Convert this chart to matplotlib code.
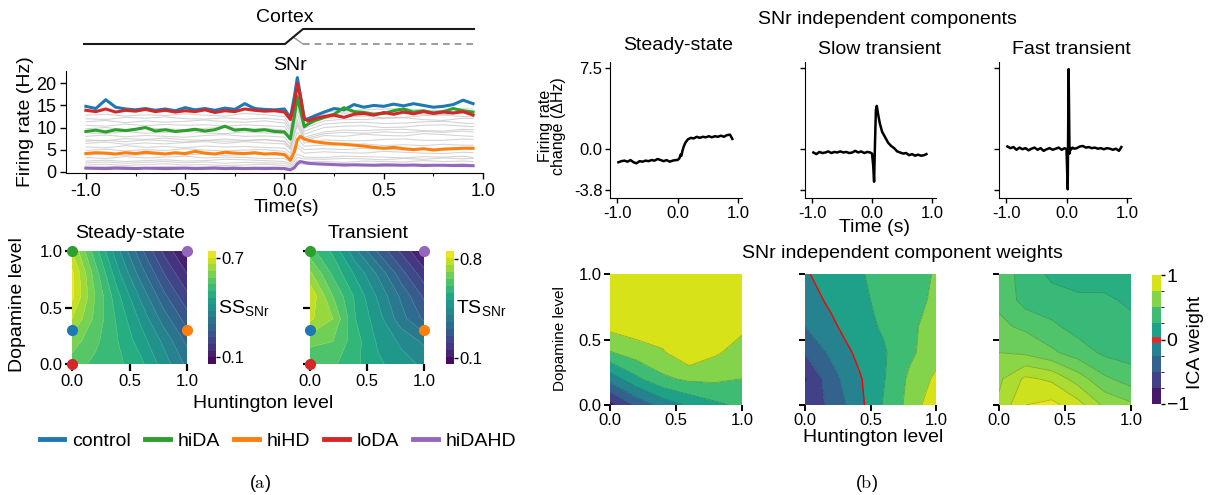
import numpy as np
import matplotlib
matplotlib.use('Agg')
import matplotlib.pyplot as plt
from matplotlib.colors import ListedColormap, BoundaryNorm
from matplotlib.cm import ScalarMappable
from matplotlib.ticker import MultipleLocator

plt.rcParams['font.family'] = ['Liberation Sans', 'DejaVu Sans']
plt.rcParams['mathtext.default'] = 'regular'
plt.rcParams['axes.unicode_minus'] = False

# ---------------- data: panel (a), SNr firing rates ----------------
t_fr = [-1.0, -0.95, -0.9, -0.85, -0.8, -0.75, -0.7, -0.65, -0.6, -0.55,
        -0.5, -0.45, -0.4, -0.35, -0.3, -0.25, -0.2, -0.15, -0.1, -0.05,
        0.0, 0.03, 0.05, 0.065, 0.08, 0.1, 0.12, 0.15,
        0.2, 0.25, 0.3, 0.35, 0.4, 0.45, 0.5, 0.55, 0.6, 0.65, 0.7, 0.75,
        0.8, 0.85, 0.9, 0.95]
fr_control = [14.8, 14.3, 16.3, 14.6, 14.2, 14.0, 14.3, 13.9, 14.2, 13.8,
              14.5, 14.0, 14.3, 13.9, 14.4, 14.1, 15.4, 14.3, 14.1, 14.0,
              14.2, 12.2, 17.0, 21.3, 17.5, 11.8, 12.0, 12.6,
              13.5, 14.3, 14.0, 15.2, 14.6, 15.0, 14.8, 15.3, 14.9, 15.4, 15.0, 14.6,
              14.8, 15.2, 16.2, 15.4]
fr_hiDA = [9.1, 9.4, 9.0, 9.5, 9.3, 9.6, 10.0, 9.2, 9.5, 9.1,
           9.3, 9.6, 9.2, 9.5, 10.3, 9.4, 9.6, 9.3, 9.5, 9.1,
           9.0, 7.4, 12.5, 17.0, 14.0, 10.2, 10.8, 11.5,
           12.3, 13.0, 14.5, 13.6, 13.4, 13.0, 13.2, 13.8, 14.2, 13.5, 13.8, 13.3,
           13.6, 14.3, 13.8, 13.5]
fr_hiHD = [4.1, 4.3, 4.2, 4.0, 4.3, 4.1, 4.4, 4.2, 4.0, 4.3,
           4.1, 4.6, 4.2, 4.0, 4.4, 4.2, 4.1, 4.3, 4.0, 4.1,
           3.9, 2.6, 4.5, 7.2, 8.0, 7.4, 7.1, 6.8,
           6.5, 6.3, 6.2, 6.0, 5.8, 5.5, 5.3, 5.5, 5.2, 5.0, 5.2, 4.9,
           5.1, 5.2, 5.3, 5.3]
fr_loDA = [13.9, 13.6, 14.2, 13.5, 13.9, 13.7, 14.1, 13.6, 13.9, 13.5,
           13.8, 13.6, 14.0, 13.4, 13.8, 13.6, 14.2, 13.9, 13.7, 13.8,
           13.5, 11.8, 15.5, 20.0, 17.0, 12.0, 11.5, 12.0,
           12.5, 12.8, 12.3, 13.0, 13.2, 12.8, 13.4, 13.0, 13.5, 13.1, 13.6, 13.2,
           13.5, 13.3, 13.6, 12.8]
fr_hiDAHD = [0.8, 0.75, 0.7, 0.8, 0.75, 0.7, 0.8, 0.75, 0.7, 0.75,
             0.8, 0.7, 0.75, 0.8, 0.7, 0.75, 0.7, 0.75, 0.7, 0.75,
             0.7, 0.4, 0.9, 1.8, 2.3, 2.1, 1.9, 1.8,
             1.7, 1.6, 1.5, 1.55, 1.5, 1.45, 1.5, 1.5, 1.45, 1.5, 1.4, 1.45,
             1.45, 1.4, 1.4, 1.35]

# other conditions (grey background traces)
t_grey = [-1.0, -0.9, -0.8, -0.7, -0.6, -0.5, -0.4, -0.3, -0.2, -0.1, 0.0,
          0.03, 0.065, 0.1, 0.2, 0.3, 0.4, 0.5, 0.6, 0.7, 0.8, 0.9, 0.95]
fr_grey = [
    [1.0, 1.2, 1.1, 0.9, 1.2, 1.0, 1.1, 1.3, 1.0, 1.1, 1.0, 0.7, 1.8, 1.7, 1.6, 1.7, 1.5, 1.8, 1.6, 1.7, 1.5, 1.8, 1.6],
    [1.5, 1.7, 1.4, 1.6, 1.8, 1.5, 1.6, 1.4, 1.5, 1.7, 1.4, 1.0, 2.5, 2.2, 2.3, 2.1, 2.4, 2.3, 2.2, 2.5, 2.3, 2.4, 2.3],
    [2.0, 2.2, 1.9, 2.1, 2.3, 2.0, 2.2, 1.9, 2.1, 2.0, 1.9, 1.4, 3.2, 2.9, 2.8, 3.0, 2.9, 2.7, 3.0, 2.8, 3.1, 2.9, 3.0],
    [2.4, 2.6, 2.3, 2.5, 2.7, 2.4, 2.5, 2.8, 2.7, 2.5, 2.3, 1.8, 4.0, 3.3, 3.2, 3.5, 3.4, 3.3, 3.1, 3.4, 3.3, 3.5, 3.2],
    [3.2, 3.0, 3.4, 3.1, 3.3, 3.5, 3.1, 3.3, 3.2, 3.0, 3.0, 2.2, 5.5, 4.2, 4.5, 4.3, 4.2, 4.6, 4.4, 4.2, 4.1, 4.4, 4.3],
    [3.8, 4.0, 3.7, 3.9, 4.1, 3.8, 4.0, 3.7, 3.9, 4.0, 3.6, 2.8, 6.2, 5.0, 5.2, 5.0, 5.3, 5.1, 4.9, 5.2, 5.0, 5.3, 5.1],
    [4.8, 5.1, 4.7, 5.0, 4.8, 5.2, 4.9, 4.7, 4.9, 5.0, 4.6, 3.5, 7.5, 5.8, 6.0, 6.2, 6.3, 5.9, 6.1, 5.9, 6.2, 6.0, 6.0],
    [5.6, 5.4, 5.9, 5.5, 5.7, 5.4, 5.8, 5.6, 5.7, 5.5, 5.3, 4.2, 9.0, 6.5, 7.2, 7.0, 7.0, 7.3, 7.4, 7.1, 7.1, 7.4, 7.3],
    [6.4, 6.7, 6.2, 6.5, 6.3, 6.6, 6.8, 6.4, 6.8, 6.5, 6.3, 5.0, 10.5, 7.0, 8.2, 8.0, 8.5, 8.2, 8.1, 8.6, 8.4, 8.1, 8.0],
    [6.9, 7.1, 6.8, 7.2, 7.0, 6.7, 7.1, 6.9, 7.0, 7.2, 6.8, 5.4, 11.0, 7.4, 8.6, 8.9, 8.7, 9.0, 8.8, 9.1, 8.9, 9.2, 9.0],
    [7.2, 7.0, 7.5, 7.3, 7.6, 7.2, 7.1, 7.4, 7.1, 7.3, 6.9, 5.6, 11.8, 7.8, 9.0, 9.4, 9.3, 9.5, 9.6, 9.3, 9.2, 9.6, 9.5],
    [8.0, 8.3, 7.9, 8.2, 8.0, 7.8, 8.2, 8.4, 8.0, 8.1, 7.8, 6.2, 13.0, 8.5, 10.0, 10.3, 10.4, 10.0, 10.1, 10.5, 10.6, 10.3, 10.2],
    [8.8, 8.6, 9.1, 8.7, 8.9, 9.2, 8.8, 8.6, 9.0, 8.8, 8.6, 7.0, 14.5, 9.2, 10.8, 11.1, 11.2, 10.9, 11.0, 11.3, 11.4, 11.0, 10.9],
    [9.7, 10.0, 9.5, 9.9, 9.7, 9.5, 9.8, 10.1, 9.6, 9.8, 9.4, 7.6, 15.5, 9.8, 11.5, 11.9, 11.8, 12.1, 12.2, 11.8, 11.6, 12.1, 12.0],
    [10.5, 10.3, 10.8, 10.4, 10.7, 10.5, 10.6, 10.3, 10.6, 10.4, 10.2, 8.3, 16.5, 10.5, 12.0, 12.4, 12.6, 12.2, 12.3, 12.7, 12.8, 12.5, 12.4],
    [11.3, 11.6, 11.1, 11.5, 11.2, 11.4, 11.7, 11.3, 11.2, 11.5, 11.0, 9.0, 17.5, 11.0, 12.6, 13.1, 13.0, 13.3, 13.4, 13.0, 12.9, 13.2, 13.1],
    [12.0, 11.8, 12.3, 12.1, 12.4, 12.0, 11.9, 12.2, 11.9, 12.1, 11.7, 9.6, 18.5, 11.4, 13.0, 13.5, 13.6, 13.3, 13.2, 13.7, 13.8, 13.4, 13.5],
    [12.8, 13.0, 12.6, 12.9, 12.7, 13.1, 12.8, 12.6, 13.2, 12.9, 12.5, 10.2, 19.0, 11.8, 13.5, 13.9, 14.0, 14.2, 14.3, 13.9, 13.9, 14.3, 14.2],
]

# cortex input schematic
t_cortex = [-1.01, -0.005, 0.085, 0.94]
cortex_level = [0, 0, 1, 1]

conditions = ['control', 'hiDA', 'hiHD', 'loDA', 'hiDAHD']
cond_colors = ['#1f77b4', '#2ca02c', '#ff7f0e', '#d62728', '#9467bd']
cond_huntington = [0.0, 0.0, 1.0, 0.0, 1.0]
cond_dopamine = [0.3, 1.0, 0.3, 0.0, 1.0]

# parameter grid (Huntington x Dopamine)
hd_grid = [0.0, 0.2, 0.4, 0.6, 0.8, 1.0]
da_grid = [0.0, 0.2, 0.4, 0.6, 0.8, 1.0]
# rows: dopamine level, columns: huntington level
ss_snr = [[0.56, 0.53, 0.51, 0.47, 0.40, 0.33],
          [0.60, 0.55, 0.50, 0.44, 0.37, 0.29],
          [0.66, 0.57, 0.49, 0.41, 0.32, 0.24],
          [0.71, 0.58, 0.47, 0.37, 0.27, 0.19],
          [0.71, 0.56, 0.43, 0.32, 0.22, 0.14],
          [0.66, 0.52, 0.39, 0.27, 0.17, 0.09]]
ts_snr = [[0.60, 0.62, 0.57, 0.52, 0.48, 0.45],
          [0.68, 0.66, 0.58, 0.50, 0.45, 0.40],
          [0.77, 0.71, 0.56, 0.48, 0.38, 0.30],
          [0.80, 0.66, 0.55, 0.45, 0.35, 0.25],
          [0.72, 0.60, 0.50, 0.40, 0.28, 0.18],
          [0.63, 0.55, 0.42, 0.30, 0.20, 0.10]]

# ---------------- data: panel (b), independent components ----------------
t_ic = [-0.98, -0.93, -0.88, -0.83, -0.78, -0.73, -0.68, -0.63, -0.58, -0.53,
        -0.48, -0.43, -0.38, -0.33, -0.28, -0.23, -0.18, -0.13, -0.08, -0.03,
        0.0, 0.02, 0.035, 0.05, 0.065, 0.08, 0.1, 0.13, 0.17,
        0.22, 0.27, 0.32, 0.37, 0.42, 0.47, 0.52, 0.57, 0.62, 0.67, 0.72,
        0.77, 0.82, 0.87, 0.91]
ic_steady = [-1.2, -1.1, -1.05, -1.15, -1.0, -1.2, -1.3, -1.1, -1.15, -1.05,
             -1.1, -1.0, -1.05, -0.9, -1.0, -1.1, -1.0, -1.15, -1.05, -1.0,
             -1.0, -0.9, -0.8, -0.5, -0.6, -0.2, 0.2, 0.6, 0.9,
             1.05, 1.0, 1.15, 1.05, 1.15, 1.1, 1.2, 1.1, 1.2, 1.15, 1.25,
             1.15, 1.3, 1.35, 0.95]
ic_slow = [-0.3, -0.45, -0.25, -0.35, -0.3, -0.2, -0.35, -0.25, -0.3, -0.2,
           -0.3, -0.25, -0.35, -0.3, -0.15, -0.3, -0.2, -0.35, -0.25, -0.3,
           -0.4, -1.5, -3.0, 0.5, 3.6, 4.0, 3.3, 2.4, 1.6,
           1.1, 0.6, 0.3, 0.1, -0.2, -0.3, -0.4, -0.35, -0.55, -0.45, -0.6,
           -0.5, -0.6, -0.55, -0.45]
ic_fast = [0.25, 0.1, 0.2, -0.05, 0.15, 0.0, 0.1, -0.1, 0.05, 0.15,
           -0.05, 0.1, -0.15, 0.0, 0.1, -0.05, 0.05, 0.15, -0.05, 0.1,
           0.0, -3.7, 7.4, -0.4, 0.1, 0.0, 0.15, 0.05, 0.1,
           0.25, 0.3, 0.15, 0.2, 0.1, 0.15, 0.05, 0.1, 0.0, 0.1, 0.05,
           -0.05, 0.05, -0.15, 0.2]
ic_titles = ['Steady-state', 'Slow transient', 'Fast transient']

# ICA weights over the parameter grid
w_steady = [[-0.85, -0.45, -0.15, 0.05, 0.2, 0.3],
            [-0.15, 0.2, 0.45, 0.55, 0.55, 0.5],
            [0.48, 0.62, 0.72, 0.95, 0.78, 0.65],
            [0.82, 0.88, 0.92, 0.95, 0.92, 0.8],
            [0.92, 0.95, 0.97, 0.98, 0.96, 0.92],
            [0.95, 0.97, 0.98, 0.98, 0.97, 0.95]]
w_slow = [[-0.65, -0.45, -0.1, 0.27, 0.58, 0.95],
          [-0.78, -0.35, -0.05, 0.23, 0.55, 0.8],
          [-0.48, -0.2, 0.05, 0.22, 0.45, 0.65],
          [-0.25, -0.05, 0.15, 0.28, 0.45, 0.6],
          [-0.12, 0.05, 0.2, 0.3, 0.4, 0.55],
          [-0.03, 0.12, 0.23, 0.3, 0.4, 0.52]]
w_fast = [[0.72, 0.9, 0.93, 0.84, 0.68, 0.62],
          [0.68, 0.82, 0.78, 0.65, 0.52, 0.45],
          [0.6, 0.58, 0.52, 0.45, 0.38, 0.36],
          [0.52, 0.48, 0.42, 0.36, 0.38, 0.33],
          [0.48, 0.36, 0.34, 0.33, 0.32, 0.28],
          [0.47, 0.35, 0.28, 0.23, 0.25, 0.27]]

# ---------------- layout helpers (pixel boxes) ----------------
W, H = 1209, 495


def box(x0, y0, x1, y1):
    return [x0 / W, 1 - y1 / H, (x1 - x0) / W, (y1 - y0) / H]


def fx(x):
    return x / W


def fy(y):
    return 1 - y / H


def clean(ax, left=True, bottom=True):
    for s in ['top', 'right']:
        ax.spines[s].set_visible(False)
    ax.spines['left'].set_visible(left)
    ax.spines['bottom'].set_visible(bottom)


fig = plt.figure(figsize=(W / 100, H / 100), dpi=100)

# ---------------- (a) cortex schematic ----------------
ax_c = fig.add_axes(box(66, 20, 483, 54))
ax_c.plot([0.085, 0.94], [0, 0], color='0.55', lw=1.2, ls=(0, (4, 3)))
ax_c.plot([0.035, 0.085], [0.47, 0], color='0.6', lw=1.0)
ax_c.plot(t_cortex, cortex_level, color='0.1', lw=1.5)
ax_c.set_xlim(-1.1, 0.985)
ax_c.set_ylim(-0.667, 1.6)
ax_c.axis('off')
fig.text(fx(285), fy(18), 'Cortex', fontsize=14, ha='center', va='center')

# ---------------- (a) firing rates ----------------
ax_fr = fig.add_axes(box(66, 71, 483, 173))
for tr in fr_grey:
    ax_fr.plot(t_grey, tr, color='0.78', lw=0.8, alpha=0.75)
series = [fr_control, fr_hiDA, fr_hiHD, fr_loDA, fr_hiDAHD]
handles = {}
for i in range(5):
    ln, = ax_fr.plot(t_fr, series[i], color=cond_colors[i], lw=2.2)
    handles[i] = ln
ax_fr.set_xlim(-1.1, 0.985)
ax_fr.set_ylim(-0.3, 22.8)
ax_fr.set_xticks([-1.0, -0.5, 0.0, 0.5, 1.0])
ax_fr.set_xticklabels(['-1.0', '-0.5', '0.0', '0.5', '1.0'])
ax_fr.xaxis.set_minor_locator(MultipleLocator(0.25))
ax_fr.set_yticks([0, 5, 10, 15, 20])
ax_fr.tick_params(labelsize=13, length=4, width=1, pad=3)
ax_fr.tick_params(which='minor', length=2.5, width=0.8)
clean(ax_fr)
fig.text(fx(290), fy(66), 'SNr', fontsize=14, ha='center', va='center')
fig.text(fx(25), fy(122), 'Firing rate (Hz)', fontsize=14, rotation=90,
         ha='center', va='center')
fig.text(fx(286), fy(207), 'Time(s)', fontsize=14, ha='center', va='center')

# ---------------- (a) SS / TS maps ----------------
maps_a = [(ss_snr, 'Steady-state', 'SS$_{SNr}$', np.arange(0.06, 0.75, 0.04), [0.1, 0.7],
           (72, 187), (208, 216), 130),
          (ts_snr, 'Transient', 'TS$_{SNr}$', np.arange(0.06, 0.87, 0.05), [0.1, 0.8],
           (310, 424), (446, 454), 368)]
for k, (z, title, clab, lev, cticks, (x0, x1), (c0, c1), tx) in enumerate(maps_a):
    ax = fig.add_axes(box(x0, 251, x1, 364))
    cf = ax.contourf(hd_grid, da_grid, z, levels=lev, cmap='viridis')
    ax.contour(hd_grid, da_grid, z, levels=lev, colors='white', linewidths=0.3, alpha=0.25)
    for i in range(len(conditions)):
        ax.plot(cond_huntington[i], cond_dopamine[i], 'o', color=cond_colors[i],
                ms=7, clip_on=False, zorder=5)
    ax.set_xlim(0, 1)
    ax.set_ylim(0, 1)
    for s in ax.spines.values():
        s.set_visible(False)
    ax.set_xticks([0, 0.5, 1.0])
    ax.set_yticks([0, 0.5, 1.0])
    ax.set_xticklabels(['0.0', '0.5', '1.0'])
    if k == 0:
        ax.set_yticklabels(['0.0', '0.5', '1.0'])
    else:
        ax.set_yticklabels([])
    ax.tick_params(labelsize=12, length=5, width=1.6, pad=2)
    fig.text(fx(tx), fy(234), title, fontsize=14, ha='center', va='center')
    cax = fig.add_axes(box(c0, 251, c1, 364))
    cb = fig.colorbar(cf, cax=cax, ticks=cticks)
    cb.outline.set_visible(False)
    cb.ax.tick_params(labelsize=12, length=3, width=1, pad=1)
    cb.ax.set_yticklabels(['%.1f' % v for v in cticks])
    fig.text(fx(c1 + 2), fy(308), clab, fontsize=14, ha='left', va='center')

fig.text(fx(18), fy(305), 'Dopamine level', fontsize=14, rotation=90,
         ha='center', va='center')
fig.text(fx(263), fy(403), 'Huntington level', fontsize=14, ha='center', va='center')

fig.legend([handles[i] for i in range(5)], conditions, loc='center',
           bbox_to_anchor=(fx(278), fy(441)), ncol=5, frameon=False, fontsize=14,
           handlelength=1.25, handletextpad=0.4, columnspacing=0.75,
           borderpad=0, borderaxespad=0)
for ln in fig.legends[0].get_lines():
    ln.set_linewidth(3.5)

# ---------------- (b) independent components ----------------
xs_b = [(610, 742), (805, 936), (999, 1131)]
ics = [ic_steady, ic_slow, ic_fast]
title_x = [678, 880, 1071]
title_y = [46, 49, 49]
for k in range(3):
    ax = fig.add_axes(box(xs_b[k][0], 62, xs_b[k][1], 198))
    ax.plot(t_ic, ics[k], color='black', lw=1.8)
    ax.set_xlim(-1.12, 1.07)
    ax.set_ylim(-4.5, 8.05)
    ax.set_xticks([-1.0, 0.0, 1.0])
    ax.set_xticklabels(['-1.0', '0.0', '1.0'])
    ax.set_yticks([-3.8, 0.0, 7.5])
    if k == 0:
        ax.set_yticklabels(['-3.8', '0.0', '7.5'])
    else:
        ax.set_yticklabels([])
    ax.tick_params(labelsize=12, length=3.5, width=1, pad=2)
    clean(ax)
    fig.text(fx(title_x[k]), fy(title_y[k]), ic_titles[k], fontsize=14,
             ha='center', va='center')

fig.text(fx(887), fy(20), 'SNr independent components', fontsize=14,
         ha='center', va='center')
fig.text(fx(552), fy(126), 'Firing rate\nchange (\u0394Hz)', fontsize=11.5,
         rotation=90, ha='center', va='center', linespacing=0.85)
fig.text(fx(874), fy(227), 'Time (s)', fontsize=14, ha='center', va='center')

# ---------------- (b) ICA weights ----------------
weights = [w_steady, w_slow, w_fast]
w_levels = [np.arange(-1.0, 1.01, 0.25), np.arange(-1.0, 1.01, 0.25),
            np.arange(0.0, 1.01, 0.1)]
for k in range(3):
    ax = fig.add_axes(box(xs_b[k][0], 274, xs_b[k][1], 405))
    ax.contourf(hd_grid, da_grid, weights[k], levels=w_levels[k], cmap='viridis',
                vmin=-1, vmax=1)
    ax.contour(hd_grid, da_grid, weights[k], levels=w_levels[k], colors='#1d4f4f',
               linewidths=0.6, alpha=0.35)
    if k == 1:
        ax.contour(hd_grid, da_grid, weights[k], levels=[0.0], colors='red',
                   linewidths=1.0)
    ax.set_xlim(0, 1)
    ax.set_ylim(0, 1)
    for s in ax.spines.values():
        s.set_visible(False)
    ax.set_xticks([0, 0.5, 1.0])
    ax.set_yticks([0, 0.5, 1.0])
    ax.set_xticklabels(['0.0', '0.5', '1.0'])
    if k == 0:
        ax.set_yticklabels(['0.0', '0.5', '1.0'])
    else:
        ax.set_yticklabels([])
    ax.tick_params(labelsize=12, length=4, width=1.4, pad=2)

fig.text(fx(902), fy(253), 'SNr independent component weights', fontsize=14,
         ha='center', va='center')
fig.text(fx(560), fy(339), 'Dopamine level', fontsize=11, rotation=90,
         ha='center', va='center')
fig.text(fx(873), fy(437), 'Huntington level', fontsize=14, ha='center', va='center')

cb_levels = np.arange(-1.0, 1.01, 0.25)
cb_cmap = ListedColormap([plt.get_cmap('viridis')((i + 0.5) / 8) for i in range(8)])
cax = fig.add_axes(box(1152, 275, 1161, 404))
cb = fig.colorbar(ScalarMappable(norm=BoundaryNorm(cb_levels, 8), cmap=cb_cmap),
                  cax=cax, ticks=[-1, 0, 1])
cb.ax.set_yticklabels(['\u22121', '0', '1'])
cb.outline.set_visible(False)
cb.ax.axhline(0.0, color='#e8262b', lw=4)
cb.ax.tick_params(labelsize=14, length=3, width=1, pad=1)
fig.text(fx(1195), fy(342), 'ICA weight', fontsize=14, rotation=90,
         ha='center', va='center')

# captions
fig.text(fx(260), fy(483), r'$(\mathrm{a})$', fontsize=13, ha='center', va='center',
         math_fontfamily='cm')
fig.text(fx(866), fy(483), r'$(\mathrm{b})$', fontsize=13, ha='center', va='center',
         math_fontfamily='cm')

fig.savefig('out.png', dpi=100)
